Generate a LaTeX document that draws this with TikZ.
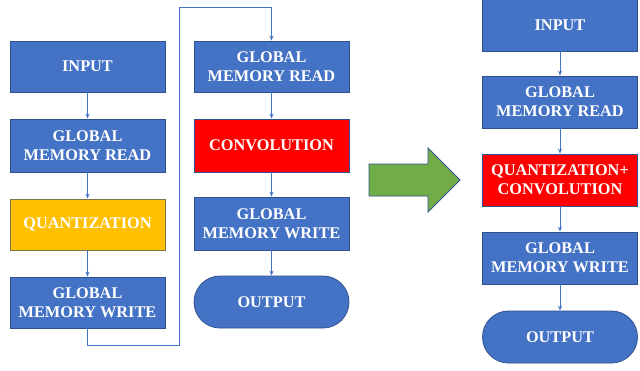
\documentclass[tikz,border=0pt]{standalone}
\usepackage{fontspec}
\setmainfont{Liberation Serif}
\usetikzlibrary{arrows.meta,shapes.misc}
\definecolor{bfill}{HTML}{4472C4}
\definecolor{bdraw}{HTML}{2F528F}
\definecolor{yfill}{HTML}{FFC000}
\definecolor{ydraw}{HTML}{7B7548}
\definecolor{gfill}{HTML}{70AD47}
\tikzset{
  box/.style={draw=bdraw, fill=bfill, line width=0.8pt, minimum width=155pt, inner sep=0pt,
    text=white, font=\fontsize{16.3}{19}\selectfont\bfseries, align=center},
  yelbox/.style={box, draw=ydraw, fill=yfill},
  redbox/.style={box, draw=bdraw, fill=red},
  endbox/.style={box, rounded rectangle},
  conn/.style={draw=bfill, line width=0.8pt, -{Stealth[length=5pt,width=4pt]}}
}
\begin{document}
\begin{tikzpicture}[x=1pt,y=-1pt]
\useasboundingbox (0,0) rectangle (640,370);
% left column
\node[box, minimum height=51pt] (in1) at (87.5,66.5) {INPUT};
\node[box, minimum height=53pt] (gmr1) at (87.5,145.5) {GLOBAL\\MEMORY READ};
\node[yelbox, minimum height=51pt] (q1) at (87.5,224.5) {QUANTIZATION};
\node[box, minimum height=51pt] (gmw1) at (87.5,302.5) {GLOBAL\\MEMORY WRITE};
% middle column
\node[box, minimum height=51pt] (gmr2) at (271.5,66.5) {GLOBAL\\MEMORY READ};
\node[redbox, minimum height=53pt] (conv) at (271.5,145.5) {CONVOLUTION};
\node[box, minimum height=53pt] (gmw2) at (271.5,223.5) {GLOBAL\\MEMORY WRITE};
\node[endbox, minimum height=52pt, minimum width=155pt] (out2) at (271.5,302) {OUTPUT};
% right column
\node[box, minimum height=52pt] (in3) at (560,25) {INPUT};
\node[box, minimum height=52pt] (gmr3) at (560,102) {GLOBAL\\MEMORY READ};
\node[redbox, minimum height=52pt] (qc3) at (560,180) {QUANTIZATION+\\CONVOLUTION};
\node[box, minimum height=52pt] (gmw3) at (560,258) {GLOBAL\\MEMORY WRITE};
\node[endbox, minimum height=52pt, minimum width=155pt] (out3) at (560,337) {OUTPUT};
% connectors
\draw[conn] (in1) -- (gmr1);
\draw[conn] (gmr1) -- (q1);
\draw[conn] (q1) -- (gmw1);
\draw[conn] (gmw1.south) -- ++(0,17) -| (179,7) -| (gmr2.north);
\draw[conn] (gmr2) -- (conv);
\draw[conn] (conv) -- (gmw2);
\draw[conn] (gmw2) -- (out2);
\draw[conn] (in3) -- (gmr3);
\draw[conn] (gmr3) -- (qc3);
\draw[conn] (qc3) -- (gmw3);
\draw[conn] (gmw3) -- (out3);
% big green arrow
\draw[draw=bdraw, fill=gfill, line width=0.8pt]
  (369,164) -- (428,164) -- (428,148) -- (460,180) -- (428,212) -- (428,196) -- (369,196) -- cycle;
\end{tikzpicture}
\end{document}
